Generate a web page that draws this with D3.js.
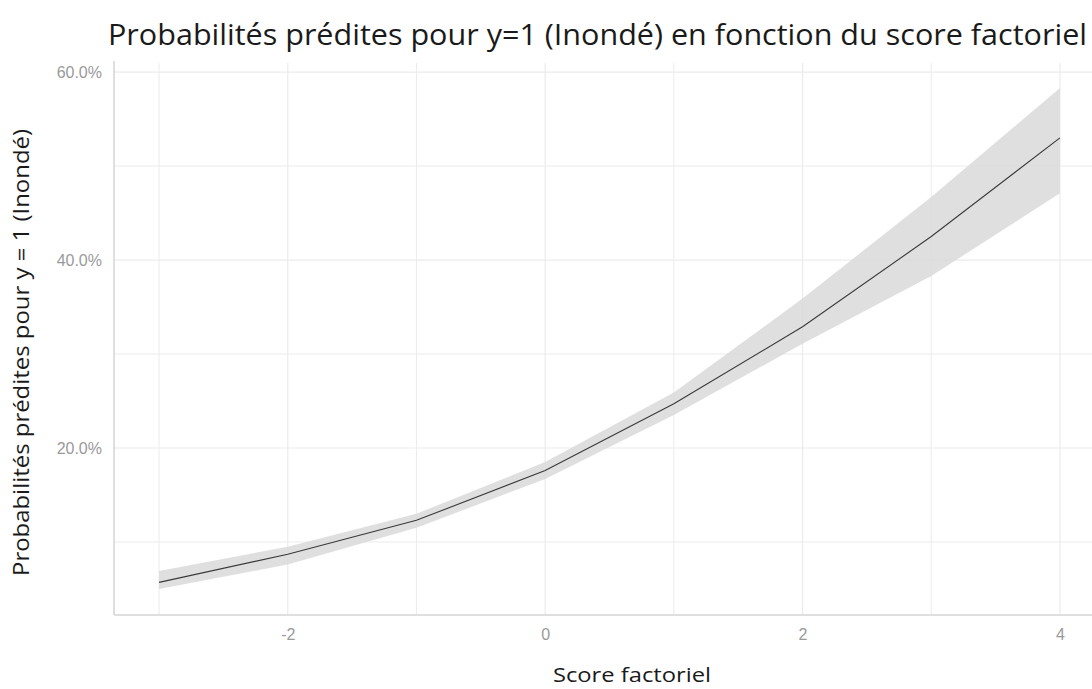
<!DOCTYPE html>
<html>
<head>
<meta charset="utf-8">
<script src="https://cdn.jsdelivr.net/npm/d3@7"></script>
<style>
  html, body { margin: 0; padding: 0; background: #fff; }
  svg { display: block; }
</style>
</head>
<body>
<svg id="chart" width="1092" height="689"></svg>
<script>
// ---- data ----
const scores = [-3, -2, -1, 0, 1, 2, 3, 4];
const predicted = [0.057, 0.087, 0.123, 0.176, 0.247, 0.329, 0.425, 0.530];
const lowerCI = [0.050, 0.076, 0.115, 0.167, 0.235, 0.311, 0.383, 0.471];
const upperCI = [0.069, 0.095, 0.130, 0.185, 0.259, 0.359, 0.467, 0.583];
const xMajorTicks = [-2, 0, 2, 4];
const xMinorTicks = [-3, -1, 1, 3];
const yMajorTicks = [0.2, 0.4, 0.6];
const yMinorTicks = [0.1, 0.3, 0.5];
const titleText = "Probabilités prédites pour y=1 (Inondé) en fonction du score factoriel";
const xLabel = "Score factoriel";
const yLabel = "Probabilités prédites pour y = 1 (Inondé)";

(function () {
const svg = d3.select("#chart");
const mL = 114, mR = 1105, mT = 63, mB = 614;

const allLow = d3.min(lowerCI), allHigh = d3.max(upperCI);
const yPad = (allHigh - allLow) * 0.05;
const xPad = (d3.max(scores) - d3.min(scores)) * 0.05;

const x = d3.scaleLinear()
  .domain([d3.min(scores) - xPad, d3.max(scores) + xPad])
  .range([mL, mR]);
const y = d3.scaleLinear()
  .domain([allLow - yPad, allHigh + yPad])
  .range([mB, mT]);

const gridColor = "#ebebeb";

// minor grid
svg.append("g").selectAll("line").data(yMinorTicks).join("line")
  .attr("x1", mL).attr("x2", mR)
  .attr("y1", d => y(d)).attr("y2", d => y(d))
  .attr("stroke", gridColor).attr("stroke-width", 1);
svg.append("g").selectAll("line").data(xMinorTicks).join("line")
  .attr("y1", mT).attr("y2", mB)
  .attr("x1", d => x(d)).attr("x2", d => x(d))
  .attr("stroke", gridColor).attr("stroke-width", 1);
// major grid
svg.append("g").selectAll("line").data(yMajorTicks).join("line")
  .attr("x1", mL).attr("x2", mR)
  .attr("y1", d => y(d)).attr("y2", d => y(d))
  .attr("stroke", gridColor).attr("stroke-width", 1.2);
svg.append("g").selectAll("line").data(xMajorTicks).join("line")
  .attr("y1", mT).attr("y2", mB)
  .attr("x1", d => x(d)).attr("x2", d => x(d))
  .attr("stroke", gridColor).attr("stroke-width", 1.2);

const data = scores.map((s, i) => ({ s, p: predicted[i], lo: lowerCI[i], hi: upperCI[i] }));

// ribbon
svg.append("path").datum(data)
  .attr("fill", "#d9d9d9").attr("fill-opacity", 0.85)
  .attr("d", d3.area().x(d => x(d.s)).y0(d => y(d.lo)).y1(d => y(d.hi)));

// line
svg.append("path").datum(data)
  .attr("fill", "none").attr("stroke", "#3a3a3a").attr("stroke-width", 1.1)
  .attr("d", d3.line().x(d => x(d.s)).y(d => y(d.p)));

// axes lines
svg.append("line").attr("x1", mL).attr("x2", mL).attr("y1", mT - 2).attr("y2", mB + 1)
  .attr("stroke", "#d4d4d4").attr("stroke-width", 1.5);
svg.append("line").attr("x1", mL).attr("x2", mR).attr("y1", mB + 1).attr("y2", mB + 1)
  .attr("stroke", "#d4d4d4").attr("stroke-width", 1.5);

const fmt = d3.format(".1%");
const yAxis = svg.append("g").attr("transform", `translate(${mL},0)`)
  .call(d3.axisLeft(y).tickValues(yMajorTicks).tickFormat(fmt).tickSize(0).tickPadding(12));
yAxis.select(".domain").remove();
yAxis.selectAll("text").attr("fill", "#9a9a9a")
  .style("font-family", "'Liberation Sans', Arial, sans-serif").style("font-size", "16px");

const xAxis = svg.append("g").attr("transform", `translate(0,${mB})`)
  .call(d3.axisBottom(x).tickValues(xMajorTicks).tickFormat(d => String(d)).tickSize(0).tickPadding(15));
xAxis.select(".domain").remove();
xAxis.selectAll("text").attr("fill", "#9a9a9a")
  .style("font-family", "'Liberation Sans', Arial, sans-serif").style("font-size", "16px");

// title
svg.append("text").attr("x", 108).attr("y", 45)
  .attr("textLength", 979).attr("lengthAdjust", "spacingAndGlyphs")
  .attr("fill", "#1a1a1a")
  .style("font-family", "'Open Sans', sans-serif").style("font-size", "29px")
  .text(titleText);

// x label
svg.append("text").attr("x", 553).attr("y", 682)
  .attr("textLength", 158).attr("lengthAdjust", "spacingAndGlyphs")
  .attr("fill", "#1a1a1a")
  .style("font-family", "'Open Sans', sans-serif").style("font-size", "20px")
  .text(xLabel);

// y label
svg.append("text").attr("transform", "translate(29,576) rotate(-90)")
  .attr("textLength", 447).attr("lengthAdjust", "spacingAndGlyphs")
  .attr("fill", "#1a1a1a")
  .style("font-family", "'Open Sans', sans-serif").style("font-size", "21px")
  .text(yLabel);
})();
</script>
</body>
</html>
